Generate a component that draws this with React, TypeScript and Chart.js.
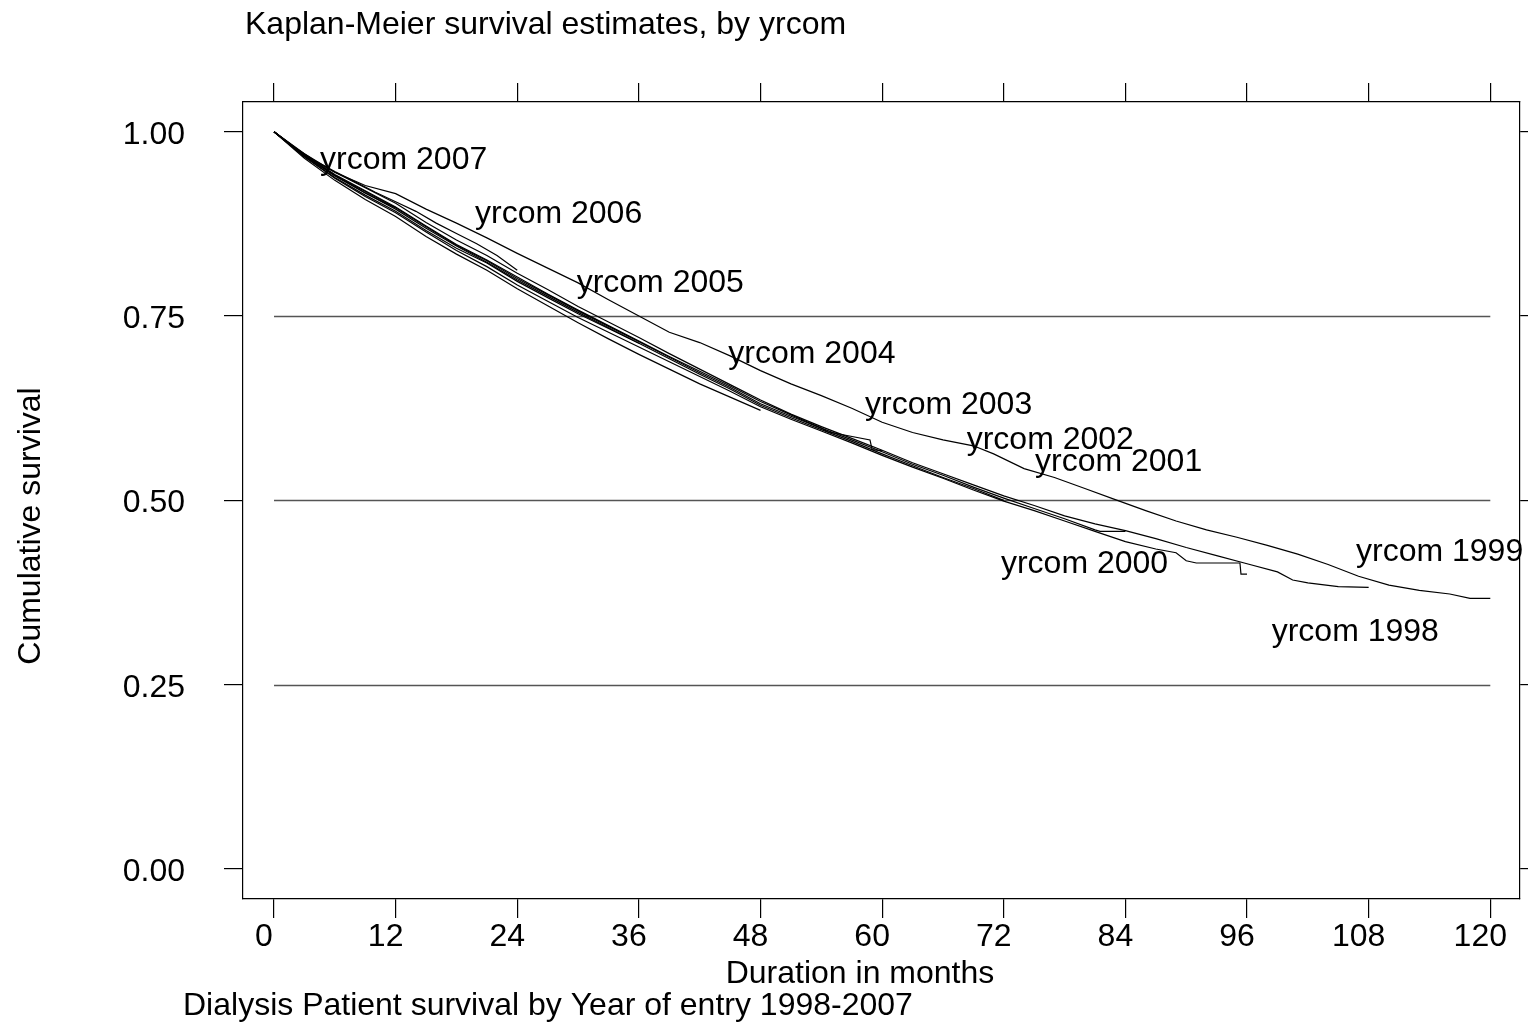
import React, { useEffect, useRef } from "react";
import { Chart, registerables } from "chart.js";

Chart.register(...registerables);

const FONT = '"Liberation Sans", Arial, Helvetica, sans-serif';

// ---- axis ticks ----
const xTicks = [0, 12, 24, 36, 48, 60, 72, 84, 96, 108, 120];
const yTicks = [0, 0.25, 0.5, 0.75, 1];
const gridValues = [0.25, 0.5, 0.75];
const gridFrom = 0;
const gridTo = 120;
const xMin = -3.06;
const xMax = 122.93;
const yMin = -0.0407;
const yMax = 1.0403;

// ---- texts ----
const chartTitle = "Kaplan-Meier survival estimates, by yrcom";
const xTitle = "Duration in months";
const yTitle = "Cumulative survival";
const noteText = "Dialysis Patient survival by Year of entry 1998-2007";

// ---- curve labels (data coordinates of text start / baseline) ----
const labelText = [
  "yrcom 2007", "yrcom 2006", "yrcom 2005", "yrcom 2004", "yrcom 2003",
  "yrcom 2002", "yrcom 2001", "yrcom 2000", "yrcom 1999", "yrcom 1998",
];
const labelMonth = [4.54, 19.83, 29.86, 44.82, 58.31, 68.34, 75.08, 71.72, 106.75, 98.43];
const labelSurv = [0.949, 0.876, 0.782, 0.686, 0.617, 0.569, 0.54, 0.402, 0.418, 0.309];

// ---- Kaplan-Meier curves (months, survival) ----
const t1998 = [0, 2, 4, 6, 9, 12, 15, 18, 21, 24, 27, 30, 33, 36, 39, 42, 45, 48, 51, 54, 57, 60, 63, 66, 69, 71, 74, 77, 80, 83, 86, 89, 92, 95, 98, 101, 104, 107, 110, 113, 116, 118, 120];
const s1998 = [1, 0.978, 0.96, 0.945, 0.927, 0.916, 0.895, 0.876, 0.856, 0.835, 0.815, 0.795, 0.772, 0.75, 0.728, 0.714, 0.696, 0.676, 0.658, 0.642, 0.625, 0.606, 0.592, 0.582, 0.574, 0.563, 0.543, 0.531, 0.516, 0.501, 0.486, 0.472, 0.46, 0.45, 0.439, 0.427, 0.413, 0.397, 0.385, 0.378, 0.373, 0.367, 0.367];

const t1999 = [0, 3, 6, 9, 12, 15, 18, 21, 24, 27, 30, 33, 36, 39, 42, 45, 48, 51, 54, 57, 60, 63, 66, 69, 72, 75, 78, 81, 84, 87, 90, 93, 96, 99, 100.5, 102, 105, 108];
const s1999 = [1, 0.97, 0.945, 0.924, 0.903, 0.877, 0.853, 0.832, 0.808, 0.786, 0.763, 0.742, 0.721, 0.699, 0.678, 0.657, 0.636, 0.617, 0.6, 0.584, 0.568, 0.551, 0.536, 0.521, 0.506, 0.493, 0.479, 0.468, 0.459, 0.448, 0.436, 0.425, 0.414, 0.403, 0.392, 0.388, 0.383, 0.382];

const t2000 = [0, 3, 6, 9, 12, 15, 18, 21, 24, 27, 30, 33, 36, 39, 42, 45, 48, 51, 54, 57, 60, 63, 66, 69, 72, 75, 78, 81, 84, 87, 89, 90, 91, 95.3, 95.4, 96];
const s2000 = [1, 0.966, 0.937, 0.912, 0.89, 0.864, 0.839, 0.817, 0.792, 0.77, 0.748, 0.728, 0.708, 0.688, 0.668, 0.648, 0.627, 0.61, 0.594, 0.578, 0.561, 0.545, 0.53, 0.514, 0.499, 0.486, 0.472, 0.458, 0.444, 0.434, 0.429, 0.418, 0.415, 0.415, 0.4, 0.4];

const t2001 = [0, 3, 6, 9, 12, 15, 18, 21, 24, 27, 30, 33, 36, 39, 42, 45, 48, 51, 54, 57, 60, 63, 66, 69, 72, 75, 78, 81, 81.5, 84];
const s2001 = [1, 0.968, 0.941, 0.919, 0.897, 0.871, 0.846, 0.825, 0.801, 0.779, 0.757, 0.736, 0.715, 0.694, 0.673, 0.653, 0.631, 0.614, 0.598, 0.582, 0.566, 0.549, 0.534, 0.518, 0.503, 0.489, 0.475, 0.46, 0.458, 0.458];

const t2002 = [0, 3, 6, 9, 12, 15, 18, 21, 24, 27, 30, 33, 36, 39, 42, 45, 48, 51, 54, 57, 60, 63, 66, 69, 72];
const s2002 = [1, 0.967, 0.94, 0.917, 0.895, 0.869, 0.845, 0.823, 0.799, 0.777, 0.755, 0.734, 0.713, 0.692, 0.671, 0.651, 0.629, 0.612, 0.596, 0.58, 0.563, 0.547, 0.531, 0.516, 0.5];

const t2003 = [0, 3, 6, 9, 12, 15, 18, 21, 24, 27, 30, 33, 36, 39, 42, 45, 48, 51, 54, 54.6, 58.8, 59, 60];
const s2003 = [1, 0.969, 0.942, 0.92, 0.898, 0.872, 0.847, 0.826, 0.803, 0.78, 0.758, 0.737, 0.716, 0.695, 0.675, 0.655, 0.634, 0.616, 0.598, 0.593, 0.582, 0.569, 0.567];

const t2004 = [0, 3, 6, 9, 12, 15, 18, 21, 24, 27, 30, 33, 36, 39, 42, 45, 48];
const s2004 = [1, 0.964, 0.934, 0.908, 0.885, 0.858, 0.834, 0.812, 0.787, 0.764, 0.741, 0.719, 0.698, 0.678, 0.658, 0.64, 0.622];

const t2005 = [0, 3, 6, 9, 12, 15, 18, 21, 24, 27, 30, 33, 36];
const s2005 = [1, 0.966, 0.938, 0.914, 0.892, 0.866, 0.842, 0.822, 0.797, 0.775, 0.753, 0.733, 0.713];

const t2006 = [0, 2, 4, 6, 8, 10, 12, 14, 16, 18, 20, 22, 24];
const s2006 = [1, 0.979, 0.961, 0.946, 0.932, 0.918, 0.905, 0.892, 0.876, 0.862, 0.848, 0.832, 0.812];

const t2007 = [0, 1, 2, 3, 4, 5, 6, 7, 8, 9, 10, 11, 12];
const s2007 = [1, 0.989, 0.978, 0.967, 0.958, 0.95, 0.941, 0.933, 0.925, 0.917, 0.91, 0.903, 0.897];

const seriesNames = ["1998", "1999", "2000", "2001", "2002", "2003", "2004", "2005", "2006", "2007"];
const seriesTimes = [t1998, t1999, t2000, t2001, t2002, t2003, t2004, t2005, t2006, t2007];
const seriesSurv = [s1998, s1999, s2000, s2001, s2002, s2003, s2004, s2005, s2006, s2007];

const setTicks = (vals: number[]) => (axis: any) => {
  axis.ticks = vals.map((v) => ({ value: v }));
};

const hGridPlugin = {
  id: "hGrid",
  beforeDatasetsDraw(chart: any) {
    const { ctx, scales } = chart;
    const x = scales.x;
    const y = scales.y;
    ctx.save();
    ctx.strokeStyle = "#555";
    ctx.lineWidth = 1.3;
    gridValues.forEach((v) => {
      const py = Math.round(y.getPixelForValue(v)) + 0.5;
      ctx.beginPath();
      ctx.moveTo(x.getPixelForValue(gridFrom), py);
      ctx.lineTo(x.getPixelForValue(gridTo), py);
      ctx.stroke();
    });
    ctx.restore();
  },
};

const textPlugin = {
  id: "texts",
  afterDraw(chart: any) {
    const { ctx, scales } = chart;
    const x = scales.x;
    const y = scales.y;
    ctx.save();
    ctx.fillStyle = "#000";
    ctx.font = `32px ${FONT}`;
    ctx.textBaseline = "alphabetic";
    // curve labels
    ctx.textAlign = "left";
    labelText.forEach((t, i) => {
      ctx.fillText(t, x.getPixelForValue(labelMonth[i]), y.getPixelForValue(labelSurv[i]));
    });
    // title
    ctx.fillText(chartTitle, 245, 34);
    // note
    ctx.fillText(noteText, 183, 1015);
    // x title
    ctx.textAlign = "center";
    ctx.fillText(xTitle, 860, 983);
    // y title
    ctx.translate(40, 526);
    ctx.rotate(-Math.PI / 2);
    ctx.fillText(yTitle, 0, 0);
    ctx.restore();
  },
};

export default function App() {
  const ref = useRef<HTMLCanvasElement>(null);
  useEffect(() => {
    const canvas = ref.current;
    if (!canvas) return;
    Chart.defaults.font.family = FONT;
    const datasets = seriesNames.map((name, i) => ({
      label: "yrcom " + name,
      data: seriesTimes[i].map((t, j) => ({ x: t, y: seriesSurv[i][j] })),
      borderColor: "#000",
      borderWidth: 1.2,
      pointRadius: 0,
      tension: 0,
      fill: false,
      xAxisID: "x",
      yAxisID: "y",
    }));
    const gridCommon = {
      drawOnChartArea: false,
      drawTicks: true,
      tickLength: 19,
      color: "#000",
      lineWidth: 1.2,
    };
    const borderCommon = { display: true, color: "#000", width: 1.2 };
    const chart = new Chart(canvas, {
      type: "line",
      data: { datasets },
      options: {
        animation: false,
        responsive: false,
        devicePixelRatio: 1,
        layout: { padding: 0 },
        plugins: {
          legend: { display: false },
          title: { display: false },
          tooltip: { enabled: false },
        },
        scales: {
          x: {
            type: "linear",
            position: "bottom",
            min: xMin,
            max: xMax,
            afterBuildTicks: setTicks(xTicks),
            afterFit: (s: any) => {
              s.height = 126;
            },
            grid: gridCommon,
            border: borderCommon,
            ticks: {
              font: { family: FONT, size: 32 },
              color: "#000",
              padding: 0,
              labelOffset: -10,
              maxRotation: 0,
              autoSkip: false,
              callback: (v: any) => String(v),
            },
          },
          x2: {
            type: "linear",
            position: "top",
            min: xMin,
            max: xMax,
            afterBuildTicks: setTicks(xTicks),
            afterFit: (s: any) => {
              s.height = 102;
            },
            grid: gridCommon,
            border: borderCommon,
            ticks: { display: false },
          },
          y: {
            type: "linear",
            position: "left",
            min: yMin,
            max: yMax,
            afterBuildTicks: setTicks(yTicks),
            afterFit: (s: any) => {
              s.width = 243;
            },
            grid: gridCommon,
            border: borderCommon,
            ticks: {
              font: { family: FONT, size: 32 },
              color: "#000",
              padding: 39,
              labelOffset: 3,
              autoSkip: false,
              callback: (v: any) => Number(v).toFixed(2),
            },
          },
          y2: {
            type: "linear",
            position: "right",
            min: yMin,
            max: yMax,
            afterBuildTicks: setTicks(yTicks),
            afterFit: (s: any) => {
              s.width = 8;
            },
            grid: gridCommon,
            border: borderCommon,
            ticks: { display: false },
          },
        },
      } as any,
      plugins: [hGridPlugin, textPlugin],
    });
    return () => chart.destroy();
  }, []);
  return (
    <div
      style={{
        position: "fixed",
        left: 0,
        top: 0,
        width: 1528,
        height: 1025,
        background: "#fff",
      }}
    >
      <canvas ref={ref} width={1528} height={1025} style={{ display: "block", width: 1528, height: 1025 }} />
    </div>
  );
}
